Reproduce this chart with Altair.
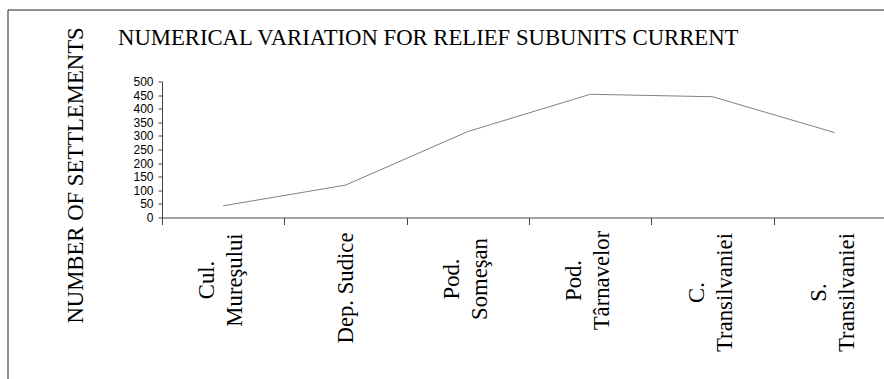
import altair as alt
import pandas as pd

# ---- data ----
categories = ["Cul.\nMureşului", "Dep. Sudice", "Pod.\nSomeşan",
              "Pod.\nTârnavelor", "C.\nTransilvaniei", "S.\nTransilvaniei"]
settlements = [43, 119, 316, 453, 444, 312]
y_ticks = list(range(0, 501, 50))
title_text = "NUMERICAL VARIATION FOR RELIEF SUBUNITS CURRENT"

df = pd.DataFrame({"subunit": categories, "settlements": settlements})

# ---- style ----
# longest line (px) of each rotated label, used to top-align the centred lines
label_len = [94, 110, 92, 95, 119, 119]
line_h = 28
dx_expr = "[" + ",".join(str(-L / 2) for L in label_len) + "][indexof(domain('x'), datum.subunit)]"
dy_expr = f"indexof(datum.subunit, '\\n') >= 0 ? {-line_h / 2 - 2} : 0"

serif = "Liberation Serif"
sans = "Liberation Sans"
big = 22.7

x_enc = alt.X(
    "subunit:N",
    sort=categories,
    scale=alt.Scale(range=[0, 734], paddingInner=0, paddingOuter=0),
    axis=alt.Axis(
        title=None,
        labels=False,
        tickSize=7,
        tickBand="extent",
        tickColor="#444",
        domainColor="#444",
        grid=False,
    ),
)

line = alt.Chart(df).mark_line(color="#808080", strokeWidth=1).encode(
    x=x_enc,
    y=alt.Y(
        "settlements:Q",
        scale=alt.Scale(domain=[0, 500], nice=False, zero=True),
        axis=alt.Axis(
            values=y_ticks,
            title="NUMBER OF SETTLEMENTS",
            titleFont=serif,
            titleFontSize=big,
            titleFontWeight="normal",
            titleColor="black",
            titleAngle=270,
            titleAlign="center",
            titleBaseline="alphabetic",
            titleX=-80,
            titleY=93.5,
            labelFont=sans,
            labelFontSize=12,
            labelColor="black",
            labelPadding=5,
            tickSize=4,
            tickColor="#444",
            domainColor="#444",
            grid=False,
        ),
    ),
)

labels = alt.Chart(df).mark_text(
    angle=270, align="center", baseline="middle", font=serif, fontSize=big,
    lineBreak="\n", lineHeight=line_h, color="black",
    dx=alt.ExprRef(expr=dx_expr), dy=alt.ExprRef(expr=dy_expr),
).encode(
    x=alt.X("subunit:N", sort=categories),
    y=alt.value(151.5),
    text="subunit:N",
)

frame = alt.Chart(alt.Data(values=[{}])).mark_rect(
    filled=False, stroke="#222", strokeWidth=1
).encode(
    x=alt.value(-154), x2=alt.value(800), y=alt.value(-71.5), y2=alt.value(400)
)

title = alt.Chart(alt.Data(values=[{}])).mark_text(
    font=serif, fontSize=big, fontWeight="normal", color="black",
    align="left", baseline="alphabetic"
).encode(
    x=alt.value(-44), y=alt.value(-36.5), text=alt.value(title_text)
)

chart = alt.layer(frame, line, labels, title).properties(
    width=722,
    height=136,
    autosize=alt.AutoSizeParams(type="none"),
    padding={"left": 162, "top": 81.5, "right": 0, "bottom": 161.5},
    background="white",
).configure_view(strokeWidth=0)

chart.save("out.html", embed_options={"renderer": "svg", "actions": False})
